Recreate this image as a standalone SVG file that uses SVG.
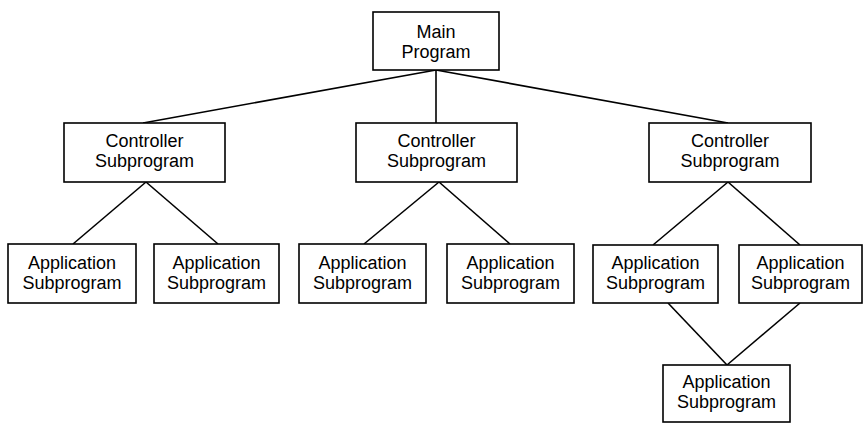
<svg xmlns="http://www.w3.org/2000/svg" width="864" height="423" viewBox="0 0 864 423">
<style>
rect{fill:#fff;stroke:#000;stroke-width:1.6}
line{stroke:#000;stroke-width:1.6}
text{font-family:"Liberation Sans",Arial,sans-serif;font-size:18px;text-anchor:middle;fill:#000}
</style>
<rect x="0" y="0" width="864" height="423" style="fill:#fff;stroke:none"/>
<g id="connectors">
<line x1="436" y1="70" x2="143" y2="123"/>
<line x1="436" y1="70" x2="436" y2="123"/>
<line x1="436" y1="70" x2="728" y2="123"/>
<line x1="146" y1="182" x2="73" y2="244"/>
<line x1="146" y1="182" x2="218" y2="244"/>
<line x1="439" y1="182" x2="364" y2="244"/>
<line x1="439" y1="182" x2="510" y2="244"/>
<line x1="728" y1="182" x2="653" y2="245"/>
<line x1="728" y1="182" x2="800" y2="245"/>
<line x1="668" y1="303" x2="727" y2="365"/>
<line x1="800" y1="303" x2="727" y2="365"/>
</g>
<g id="main"><rect x="373" y="12" width="126" height="58"/><text x="436" y="38">Main</text><text x="436" y="58">Program</text></g>
<g id="ctrl1"><rect x="64" y="123" width="161" height="59"/><text x="144.5" y="147">Controller</text><text x="144.5" y="167">Subprogram</text></g>
<g id="ctrl2"><rect x="356" y="123" width="161" height="59"/><text x="436.5" y="147">Controller</text><text x="436.5" y="167">Subprogram</text></g>
<g id="ctrl3"><rect x="649" y="123" width="162" height="59"/><text x="730" y="147">Controller</text><text x="730" y="167">Subprogram</text></g>
<g id="app1"><rect x="8" y="244" width="128" height="59"/><text x="72" y="269">Application</text><text x="72" y="289">Subprogram</text></g>
<g id="app2"><rect x="154" y="244" width="125" height="59"/><text x="216.5" y="269">Application</text><text x="216.5" y="289">Subprogram</text></g>
<g id="app3"><rect x="299" y="244" width="127" height="59"/><text x="362.5" y="269">Application</text><text x="362.5" y="289">Subprogram</text></g>
<g id="app4"><rect x="447" y="244" width="127" height="59"/><text x="510.5" y="269">Application</text><text x="510.5" y="289">Subprogram</text></g>
<g id="app5"><rect x="593" y="245" width="125" height="58"/><text x="655.5" y="269">Application</text><text x="655.5" y="289">Subprogram</text></g>
<g id="app6"><rect x="739" y="245" width="123" height="58"/><text x="800.5" y="269">Application</text><text x="800.5" y="289">Subprogram</text></g>
<g id="app7"><rect x="663" y="365" width="127" height="57"/><text x="726.5" y="388">Application</text><text x="726.5" y="408">Subprogram</text></g>
</svg>
